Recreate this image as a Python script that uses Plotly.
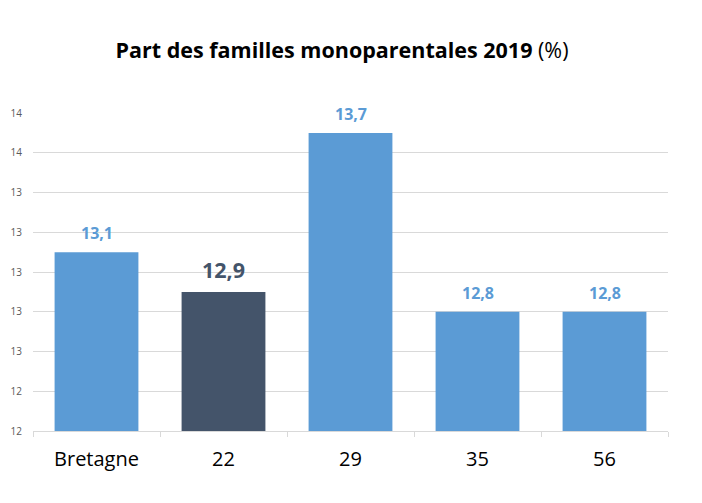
import plotly.graph_objects as go

categories = ["Bretagne", "22", "29", "35", "56"]
values = [13.1, 12.9, 13.7, 12.8, 12.8]
bar_colors = ["#5B9BD5", "#44546A", "#5B9BD5", "#5B9BD5", "#5B9BD5"]
label_sizes = [16, 21.5, 16, 16, 16]

FONT = "Open Sans"
W, H = 694, 495  # page body has an 8px margin

fig = go.Figure()
fig.add_trace(go.Bar(
    x=list(range(len(categories))), y=values,
    marker=dict(color=bar_colors, line=dict(width=0)),
    width=0.66,
    hoverinfo="skip",
))

for i, (v, col, s) in enumerate(zip(values, bar_colors, label_sizes)):
    fig.add_annotation(
        x=i, y=v, xref="x", yref="y",
        text="<b>%s</b>" % f"{v:.1f}".replace(".", ","),
        showarrow=False, yanchor="bottom", yshift=6,
        font=dict(family=FONT, size=s, color=col),
    )

fig.update_layout(
    width=W, height=H,
    paper_bgcolor="white", plot_bgcolor="white",
    margin=dict(l=25, r=34, t=105, b=72),
    separators=", ",
    showlegend=False,
    title=dict(
        text="<b>Part des familles monoparentales 2019</b> (%)",
        font=dict(family=FONT, size=21.5, color="black"),
        x=334 / W, xanchor="center", xref="container",
        y=1 - 42 / H, yanchor="middle", yref="container",
    ),
    xaxis=dict(
        range=[-0.5, len(categories) - 0.5],
        tickmode="array",
        tickvals=list(range(len(categories))),
        ticktext=categories,
        showgrid=False,
        showline=True, linecolor="#D9D9D9", linewidth=1,
        ticks="",
        tickangle=0,
        tickfont=dict(family=FONT, size=20, color="black"),
        ticklabelstandoff=10,
        automargin=False,
        minor=dict(
            tickmode="array",
            tickvals=[i - 0.5 for i in range(len(categories) + 1)],
            ticks="outside", ticklen=5, tickcolor="#D9D9D9", showgrid=False,
        ),
    ),
    yaxis=dict(
        range=[12.2, 13.8],
        tick0=12.2, dtick=0.2,
        tickformat=".0f",
        showgrid=True, gridcolor="#D9D9D9", gridwidth=1,
        zeroline=False, showline=False,
        tickfont=dict(family=FONT, size=10, color="#595959"),
        ticklabelstandoff=10,
        automargin=False,
    ),
)

fig.write_html("out.html")
